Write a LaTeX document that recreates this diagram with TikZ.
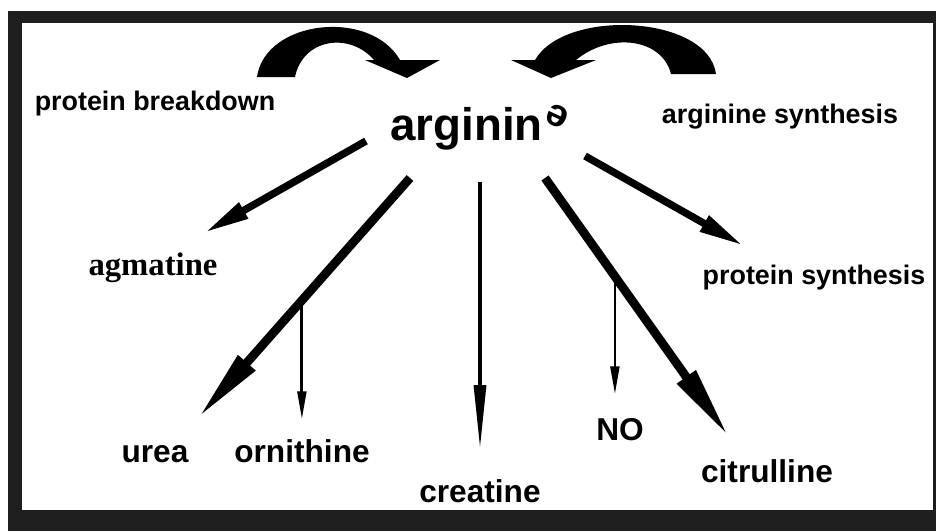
\documentclass[tikz,border=0pt]{standalone}
\usepackage{fontspec}
\usepackage{graphicx}
\setmainfont{Liberation Sans}
\newfontfamily\timesbf{Liberation Serif}
\usetikzlibrary{arrows.meta}

\definecolor{framegray}{HTML}{1E1E1E}

\tikzset{
  lbl/.style={anchor=base, inner sep=0pt, font=\fontsize{15.3}{18}\selectfont\bfseries},
  prod/.style={anchor=base, inner sep=0pt, font=\fontsize{18}{21}\selectfont\bfseries},
  fatarr/.style={line width=5pt, -{Triangle[length=42pt,width=12pt]}},
  medarr/.style={line width=4.2pt, -{Triangle[length=26pt,width=9.5pt]}},
  vertarr/.style={line width=2.8pt, -{Triangle[length=38pt,width=6.5pt]}},
  subarr/.style={line width=1.6pt, -{Triangle[length=16pt,width=5pt]}},
}

\begin{document}
\begin{tikzpicture}[x=0.02cm, y=-0.02cm]
  % frame
  \fill[white] (0,0) rectangle (936,531);
  \fill[framegray] (8,11) rectangle (936,531);
  \fill[white] (22,23) rectangle (933,510);

  % labels
  \node[lbl] (brk) at (155,110) {protein breakdown};
  \node[lbl] (syn) at (780,123) {arginine synthesis};
  \node[anchor=base, inner sep=0pt, font=\fontsize{26}{30}\selectfont\bfseries] (arg) at (481,140)
    {arginin\raisebox{0.55ex}{\rotatebox[origin=c]{155}{\scalebox{0.85}{e}}}};
  \node[anchor=base, inner sep=0pt, font=\fontsize{18.6}{21}\selectfont\timesbf\bfseries] (agm) at (153,275) {agmatine};
  \node[lbl] (psy) at (814,284) {protein synthesis};
  \node[prod] (ure) at (155,462) {urea};
  \node[prod] (orn) at (302,462) {ornithine};
  \node[prod] (cre) at (480,502) {creatine};
  \node[prod] (no) at (620,440) {NO};
  \node[prod] (cit) at (767,482) {citrulline};

  % curved arrows into arginine
  \fill (257,77) -- (295,77) .. controls (303,38) and (350,32) .. (374,60)
    -- (365,60) -- (407,78) -- (440,60) -- (400,60)
    .. controls (370,8) and (265,20) .. (257,77) -- cycle;
  \fill (716,74) -- (671,74) .. controls (662,38) and (610,32) .. (576,60)
    -- (596,60) -- (551,78) -- (511,60) -- (535,60)
    .. controls (565,8) and (708,15) .. (716,74) -- cycle;

  % arrow ends
  \coordinate (agmT) at (366,141);
  \coordinate (agmH) at (204,233);
  \coordinate (ureT) at (410,178);
  \coordinate (ureH) at (198,418);
  \coordinate (creT) at (480,182);
  \coordinate (creH) at (480,452);
  \coordinate (citT) at (545,178);
  \coordinate (citH) at (729,437);
  \coordinate (psyT) at (585,156);
  \coordinate (psyH) at (744,246);

  % arrows out of arginine
  \draw[medarr] (agmT) -- (agmH);
  \draw[fatarr] (ureT) -- (ureH) coordinate[pos=0.51] (ornJ);
  \draw[vertarr] (creT) -- (creH);
  \draw[fatarr] (citT) -- (citH) coordinate[pos=0.38] (noJ);
  \draw[medarr] (psyT) -- (psyH);

  % side branches
  \draw[subarr] (ornJ) -- ++(0,119);
  \draw[subarr] (noJ) -- ++(0,118);
\end{tikzpicture}
\end{document}
